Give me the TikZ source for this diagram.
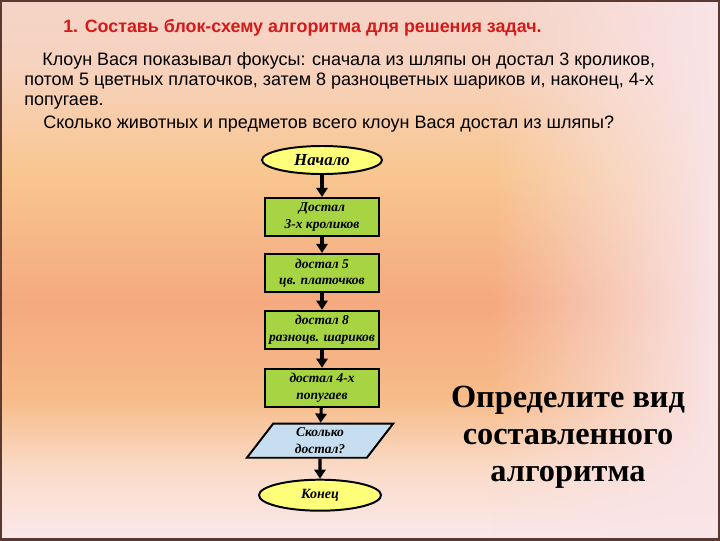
\documentclass[tikz,border=0pt]{standalone}
\usepackage{fontspec}
\setmainfont{Liberation Serif}
\newfontfamily\arialfont{Liberation Sans}
\usetikzlibrary{positioning,shapes.geometric,arrows.meta,fadings}

\definecolor{bgA}{HTML}{F4D4C8}
\definecolor{bgB}{HTML}{F7D2BE}
\definecolor{bgC}{HTML}{F8C690}
\definecolor{bgD}{HTML}{F5A97F}
\definecolor{bgE}{HTML}{F7BC8A}
\definecolor{bgF}{HTML}{FADBC8}
\definecolor{bgG}{HTML}{FBE8EC}
\definecolor{salmon}{HTML}{F2A07A}
\definecolor{bgright}{HTML}{F9E4E8}
\definecolor{framebrown}{HTML}{5A3A30}
\definecolor{titlered}{HTML}{D41A1A}
\definecolor{boxgreen}{HTML}{A6D443}
\definecolor{ovalyellow}{HTML}{FFFF7A}
\definecolor{ioblue}{HTML}{C6DEEF}

\pgfdeclareverticalshading{slidebg}{100bp}{color(0bp)=(bgG); color(25bp)=(bgG);
  color(31.5bp)=(bgF); color(38bp)=(bgE); color(47bp)=(bgD); color(59bp)=(bgC);
  color(69bp)=(bgB); color(75bp)=(bgA); color(100bp)=(bgA)}
\tikzfading[name=faderight, left color=transparent!100, right color=transparent!0]
\tikzfading[name=fadeband, left color=transparent!100, middle color=transparent!30,
  right color=transparent!100]

\tikzset{
  startstop/.style={ellipse, draw=black, line width=1.4pt, fill=ovalyellow,
    minimum width=3cm, minimum height=0.7cm, inner sep=0pt,
    font=\bfseries\itshape\fontsize{12}{13}\selectfont},
  block/.style={rectangle, draw=black, line width=1.4pt, fill=boxgreen,
    minimum width=2.85cm, minimum height=0.95cm, inner sep=1pt, align=center,
    font=\bfseries\itshape\fontsize{9.6}{11.6}\selectfont},
  io/.style={trapezium, trapezium left angle=61, trapezium right angle=119,
    trapezium stretches=true, draw=black, line width=1.4pt, fill=ioblue,
    minimum width=3.675cm, minimum height=0.85cm, inner sep=0pt, align=center,
    font=\bfseries\itshape\fontsize{9.6}{11.6}\selectfont},
  arr/.style={-{Triangle[length=6.5pt,width=8pt]}, line width=2.2pt},
  tasktext/.style={anchor=base west, inner sep=0pt,
    font=\arialfont\fontsize{12.8}{15}\selectfont},
}

\begin{document}
\begin{tikzpicture}[x=0.025cm,y=-0.025cm]
  \useasboundingbox (0,0) rectangle (720,540);
  % background
  \fill[shading=slidebg] (0,0) rectangle (720,540);
  \fill[salmon, path fading=fadeband] (260,0) rectangle (580,460);
  \fill[bgright, path fading=faderight] (490,0) rectangle (720,540);
  \draw[framebrown, line width=1.5pt] (0.5,0.5) rectangle (719.5,539.5);

  % task
  \node[tasktext, text=titlered, font=\arialfont\bfseries\fontsize{12.7}{15}\selectfont] (title) at (63,32)
    {1. Составь блок-схему алгоритма для решения задач.};
  \node[tasktext] (task1) at (42,65) {Клоун Вася показывал фокусы: сначала из шляпы он достал 3 кроликов,};
  \node[tasktext] (task2) at (24,85) {потом 5 цветных платочков, затем 8 разноцветных шариков и, наконец, 4-х};
  \node[tasktext] (task3) at (24,105) {попугаев.};
  \node[tasktext] (task4) at (43,128) {Сколько животных и предметов всего клоун Вася достал из шляпы?};

  % flowchart
  \node[startstop] (start) at (322,160) {Начало};
  \node[block, below=0.55cm of start] (b1) {Достал\\3-х кроликов};
  \node[block, below=0.4cm of b1] (b2) {достал 5\\цв. платочков};
  \node[block, below=0.42cm of b2] (b3) {достал 8\\разноцв. шариков};
  \node[block, below=0.45cm of b3] (b4) {достал 4-х\\попугаев};
  \node[io, below=0.375cm of b4, xshift=-2*0.025cm] (out) {Сколько\\достал?};
  \node[startstop, below=0.5cm of out, minimum width=3.05cm, minimum height=0.775cm,
    font=\bfseries\itshape\fontsize{10}{12}\selectfont] (stop) {Конец};

  \draw[arr] (start) -- (b1);
  \draw[arr] (b1) -- (b2);
  \draw[arr] (b2) -- (b3);
  \draw[arr] (b3) -- (b4);
  \draw[arr] (b4) -- (out);
  \draw[arr] (out) -- (stop);

  \node[align=center, font=\bfseries\fontsize{23}{26.5}\selectfont] (question) at (568,437)
    {Определите вид\\составленного\\алгоритма};
\end{tikzpicture}
\end{document}
